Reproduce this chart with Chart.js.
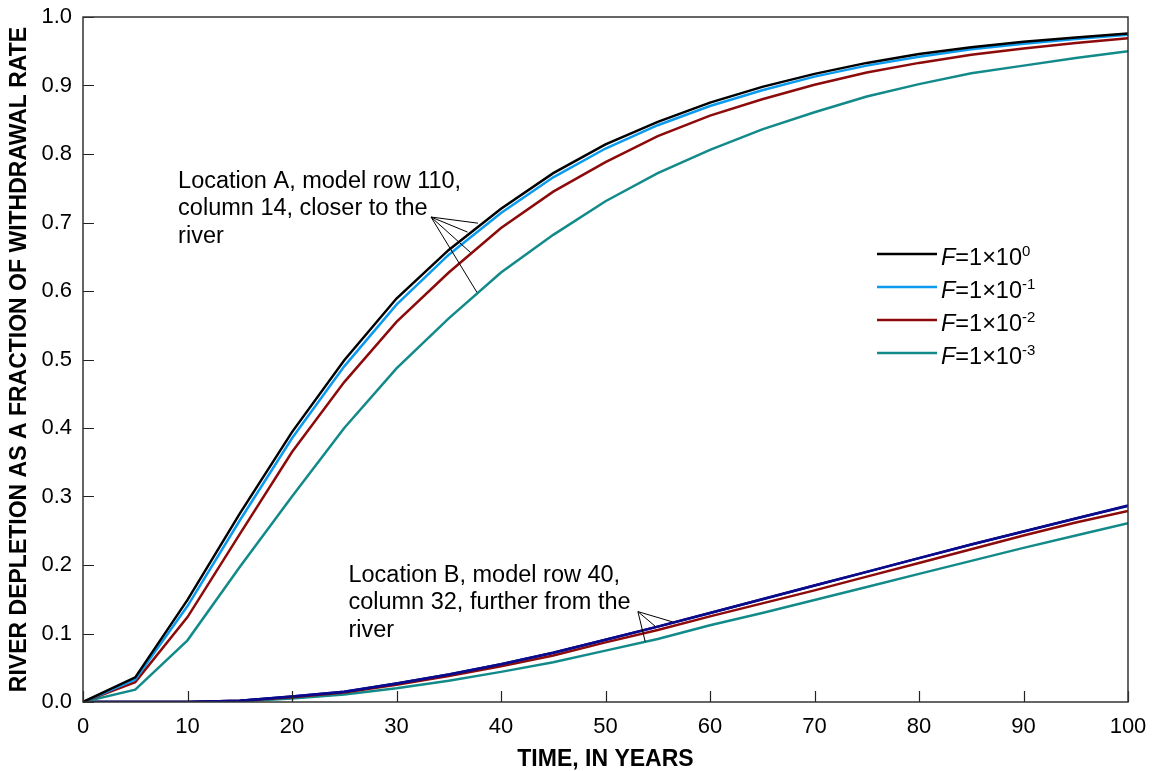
<!DOCTYPE html>
<html>
<head>
<meta charset="utf-8">
<script src="https://cdn.jsdelivr.net/npm/chart.js@4.4.1/dist/chart.umd.min.js"></script>
<style>
  html, body { margin: 0; padding: 0; background: #fff; }
  #wrap { width: 1155px; height: 771px; position: relative; }
</style>
</head>
<body>
<div id="wrap"><canvas id="depletionChart"></canvas></div>
<script>
// === DATA ===
const years = [0, 5, 10, 15, 20, 25, 30, 35, 40, 45, 50, 55, 60, 65, 70, 75, 80, 85, 90, 95, 100];

// Location A (row 110, column 14)
const aF0 = [0, 0.036, 0.149, 0.275, 0.394, 0.499, 0.589, 0.660, 0.720, 0.772, 0.814, 0.847, 0.875, 0.898, 0.917, 0.933, 0.946, 0.956, 0.964, 0.970, 0.976];
const aF1 = [0, 0.033, 0.140, 0.265, 0.385, 0.490, 0.580, 0.653, 0.714, 0.766, 0.808, 0.842, 0.870, 0.893, 0.913, 0.929, 0.942, 0.953, 0.961, 0.968, 0.974];
const aF2 = [0, 0.029, 0.124, 0.245, 0.365, 0.467, 0.555, 0.627, 0.692, 0.745, 0.788, 0.826, 0.856, 0.880, 0.901, 0.919, 0.933, 0.945, 0.954, 0.962, 0.969];
const aF3 = [0, 0.018, 0.090, 0.197, 0.300, 0.400, 0.487, 0.560, 0.627, 0.682, 0.731, 0.772, 0.806, 0.836, 0.861, 0.884, 0.902, 0.918, 0.929, 0.940, 0.950];

// Location B (row 40, column 32)
const bF0 = [0, 0, 0, 0.002, 0.008, 0.015, 0.027, 0.040, 0.055, 0.072, 0.091, 0.110, 0.130, 0.150, 0.170, 0.190, 0.210, 0.230, 0.249, 0.268, 0.287];
const bF1 = [0, 0, 0, 0.002, 0.008, 0.015, 0.027, 0.040, 0.055, 0.072, 0.091, 0.110, 0.130, 0.150, 0.170, 0.190, 0.210, 0.230, 0.249, 0.268, 0.286];
const bF2 = [0, 0, 0, 0.002, 0.007, 0.014, 0.025, 0.038, 0.052, 0.068, 0.087, 0.105, 0.125, 0.144, 0.163, 0.183, 0.203, 0.223, 0.243, 0.262, 0.279];
const bF3 = [0, 0, 0, 0.001, 0.005, 0.011, 0.020, 0.031, 0.044, 0.058, 0.075, 0.092, 0.112, 0.130, 0.149, 0.168, 0.187, 0.206, 0.225, 0.243, 0.261];

const xTicks = [0, 10, 20, 30, 40, 50, 60, 70, 80, 90, 100];
const yTicks = [0, 0.1, 0.2, 0.3, 0.4, 0.5, 0.6, 0.7, 0.8, 0.9, 1.0];

const legendExps = ['0', '-1', '-2', '-3'];
const colors = ['#000000', '#0a9bf0', '#8c0a0a', '#138a8a'];
const navy = '#0a0a8c';

// annotation text and leader lines (data coordinates)
const noteA = ['Location A, model row 110,', 'column 14, closer to the', 'river'];
const noteB = ['Location B, model row 40,', 'column 32, further from the', 'river'];
const leaderA = { from: [33.3, 0.708], to: [[37.8, 0.699], [36.8, 0.686], [37.1, 0.656], [37.7, 0.598]] };
const leaderB = { from: [53.1, 0.132], to: [[56.4, 0.117], [54.8, 0.110], [53.8, 0.088]] };

const FONT = '"Liberation Sans", Arial, sans-serif';

// === DATASETS ===
const mk = (vals, color) => ({
    data: vals.map((v, i) => ({ x: years[i], y: v })),
    borderColor: color,
    borderWidth: 2.5,
    pointRadius: 0,
    tension: 0,
    fill: false
});

const datasets = [
    mk(aF0, colors[0]), mk(aF1, colors[1]), mk(aF2, colors[2]), mk(aF3, colors[3]),
    mk(bF0, navy), mk(bF1, navy), mk(bF2, colors[2]), mk(bF3, colors[3])
];

// === PLUGIN: frame, inward ticks, notes, legend ===
const decor = {
    id: 'decor',
    afterDatasetsDraw(chart) {
        const c = chart.ctx;
        const a = chart.chartArea;
        const xs = chart.scales.x, ys = chart.scales.y;
        c.save();

        // inward ticks
        c.strokeStyle = '#222';
        c.lineWidth = 1.2;
        c.beginPath();
        xTicks.forEach(t => {
            const px = Math.round(xs.getPixelForValue(t)) + 0.5;
            c.moveTo(px, a.bottom); c.lineTo(px, a.bottom - 11);
        });
        yTicks.forEach(t => {
            const py = Math.round(ys.getPixelForValue(t)) + 0.5;
            c.moveTo(a.left, py); c.lineTo(a.left + 11, py);
        });
        c.stroke();

        // frame
        c.strokeStyle = '#333';
        c.lineWidth = 1.5;
        c.strokeRect(a.left, a.top, a.right - a.left, a.bottom - a.top);

        // leader lines
        c.strokeStyle = '#000';
        c.lineWidth = 1;
        [leaderA, leaderB].forEach(l => {
            const fx = xs.getPixelForValue(l.from[0]), fy = ys.getPixelForValue(l.from[1]);
            c.beginPath();
            l.to.forEach(p => {
                c.moveTo(fx, fy);
                c.lineTo(xs.getPixelForValue(p[0]), ys.getPixelForValue(p[1]));
            });
            c.stroke();
        });

        // notes
        c.fillStyle = '#000';
        c.font = '23.5px ' + FONT;
        c.textBaseline = 'middle';
        c.textAlign = 'left';
        const drawNote = (lines, t, v) => {
            const x = xs.getPixelForValue(t), y = ys.getPixelForValue(v);
            lines.forEach((s, i) => c.fillText(s, x, y + i * 27.5));
        };
        drawNote(noteA, 9.1, 0.760);
        drawNote(noteB, 25.4, 0.185);

        // legend
        const lx = a.left + 794, ly = a.top + 237;
        c.textBaseline = 'alphabetic';
        legendExps.forEach((e, i) => {
            const y = ly + i * 33;
            c.strokeStyle = colors[i];
            c.lineWidth = 2.5;
            c.beginPath(); c.moveTo(lx, y); c.lineTo(lx + 60, y); c.stroke();
            let x = lx + 64;
            c.font = 'italic 23.5px ' + FONT;
            c.fillText('F', x, y + 11);
            x += c.measureText('F').width;
            c.font = '23.5px ' + FONT;
            c.fillText('=1×10', x, y + 11);
            x += c.measureText('=1×10').width;
            c.font = '15px ' + FONT;
            c.fillText(e, x, y + 2);
        });
        c.restore();
    }
};

// === CHART ===
const ctx = document.getElementById('depletionChart').getContext('2d');
new Chart(ctx, {
    type: 'line',
    data: { datasets },
    options: {
        responsive: true,
        maintainAspectRatio: false,
        animation: false,
        layout: { padding: { top: 17, right: 27, left: 0, bottom: 0 } },
        plugins: { legend: { display: false }, tooltip: { enabled: false } },
        scales: {
            x: {
                type: 'linear', min: 0, max: 100,
                afterBuildTicks: s => { s.ticks = xTicks.map(v => ({ value: v })); },
                afterFit: s => { s.height = 69; s.paddingLeft = 0; s.paddingRight = 0; },
                grid: { display: false, drawTicks: false },
                border: { display: false },
                ticks: { color: '#000', padding: 12, maxRotation: 0, font: { family: FONT, size: 22 } },
                title: { display: true, text: 'TIME, IN YEARS', color: '#000', padding: { top: 0, bottom: -2 },
                         font: { family: FONT, size: 23, weight: 'bold', lineHeight: 1.2 } }
            },
            y: {
                type: 'linear', min: 0, max: 1,
                afterBuildTicks: s => { s.ticks = yTicks.map(v => ({ value: v })); },
                afterFit: s => { s.width = 83; s.paddingTop = 0; s.paddingBottom = 0; },
                grid: { display: false, drawTicks: false },
                border: { display: false },
                ticks: { color: '#000', padding: 11, callback: v => v.toFixed(1), font: { family: FONT, size: 22 } },
                title: { display: true, text: 'RIVER DEPLETION AS A FRACTION OF WITHDRAWAL RATE', color: '#000',
                         padding: { top: 6, bottom: 0 }, font: { family: FONT, size: 23, weight: 'bold', lineHeight: 1.2 } }
            }
        }
    },
    plugins: [decor]
});
</script>
</body>
</html>
